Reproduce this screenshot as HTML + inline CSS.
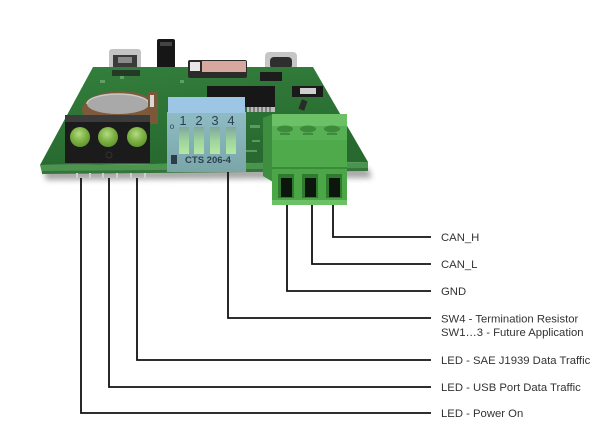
<!DOCTYPE html>
<html><head><meta charset="utf-8"><style>
html,body{margin:0;padding:0;background:#fff;}
svg{display:block;}
text{font-family:"Liberation Sans",Arial,sans-serif;}
</style></head><body>
<svg width="600" height="426" viewBox="0 0 600 426" xmlns="http://www.w3.org/2000/svg">
<defs>
<linearGradient id="brd" x1="0" y1="0" x2="0.3" y2="1">
<stop offset="0" stop-color="#347f3d"/><stop offset="0.5" stop-color="#2d7436"/><stop offset="1" stop-color="#27692f"/>
</linearGradient>
<radialGradient id="led" cx="0.45" cy="0.35" r="0.7">
<stop offset="0" stop-color="#b6da86"/><stop offset="0.5" stop-color="#7fb446"/><stop offset="1" stop-color="#5c8f2c"/>
</radialGradient>
<linearGradient id="dip" x1="0" y1="0" x2="0" y2="1">
<stop offset="0" stop-color="#8fbcc4"/><stop offset="1" stop-color="#7aa6a8"/>
</linearGradient>
<linearGradient id="sl" x1="0" y1="0" x2="0" y2="1">
<stop offset="0" stop-color="#7fa8a0"/><stop offset="0.5" stop-color="#9ed49a"/><stop offset="1" stop-color="#b5e6a6"/>
</linearGradient>
<filter id="blur" x="-20%" y="-50%" width="140%" height="200%"><feGaussianBlur stdDeviation="3"/></filter>
</defs>

<!-- shadow -->
<path d="M44,170 L368,168 L372,178 L46,180 Z" fill="#000" opacity="0.35" filter="url(#blur)"/>

<!-- top components behind board -->
<rect x="109" y="49" width="32" height="21" rx="3" fill="#c4c4c4"/>
<rect x="113" y="55" width="24" height="13" fill="#3a3a3a"/>
<rect x="118" y="57" width="14" height="6" fill="#8a8a8a"/>
<rect x="157" y="39" width="18" height="33" rx="2" fill="#161616"/>
<rect x="160" y="42" width="12" height="4" fill="#444"/>
<rect x="265" y="52" width="32" height="20" rx="4" fill="#c6c6c6"/>
<rect x="270" y="57" width="22" height="12" rx="4" fill="#2e2e2e"/>

<!-- board -->
<path d="M93,67 L313,67 L368,162 L40,165 Z" fill="url(#brd)"/>
<path d="M40,165 L368,162 L368,170 L42,173 Z" fill="#4a9450"/>
<path d="M42,171 L368,168 L368,171 L42,174 Z" fill="#357539"/>

<!-- board details -->
<rect x="188" y="60" width="59" height="18" rx="2" fill="#2b2b2b"/>
<rect x="202" y="61" width="44" height="11" fill="#d6a89e"/>
<rect x="190" y="62" width="10" height="9" fill="#e6e6e6"/>
<rect x="112" y="70" width="28" height="6" fill="#223a26"/>
<rect x="260" y="72" width="22" height="9" fill="#1c1c1c"/>
<rect x="292" y="86" width="31" height="11" fill="#1a1a1a"/>
<rect x="300" y="88" width="16" height="6" fill="#cfcfcf"/>
<rect x="207" y="86" width="68" height="21" fill="#171717"/>
<rect x="247" y="107" width="28" height="5" fill="#bdbdbd"/>
<g stroke="#444" stroke-width="1">
<line x1="250" y1="107" x2="250" y2="112"/><line x1="254" y1="107" x2="254" y2="112"/><line x1="258" y1="107" x2="258" y2="112"/><line x1="262" y1="107" x2="262" y2="112"/><line x1="266" y1="107" x2="266" y2="112"/><line x1="270" y1="107" x2="270" y2="112"/>
</g>
<rect x="300" y="100" width="6" height="10" fill="#2a2a2a" transform="rotate(20 303 105)"/>
<g fill="#9ccc9c" opacity="0.45">
<rect x="250" y="125" width="10" height="3"/><rect x="252" y="140" width="8" height="2"/><rect x="245" y="150" width="12" height="2"/>
<rect x="120" y="76" width="4" height="3"/><rect x="180" y="80" width="4" height="3"/><rect x="100" y="80" width="5" height="3"/>
</g>

<!-- battery holder -->
<ellipse cx="120" cy="110" rx="38" ry="19" fill="#7c5a3a"/>
<ellipse cx="118" cy="104" rx="31" ry="10" fill="#a9a9a9"/>
<path d="M87,104 A31,10 0 0 1 149,104" fill="none" stroke="#c9c9c9" stroke-width="1.5"/>
<rect x="148" y="92" width="10" height="32" rx="2" fill="#7a5838"/>
<rect x="150" y="95" width="4" height="12" fill="#d8d8d8"/>

<!-- LED block -->
<rect x="65" y="115" width="85" height="48" fill="#1b1b1b"/>
<rect x="65" y="115" width="85" height="7" fill="#3b3b3b"/>
<circle cx="80" cy="137" r="10" fill="url(#led)"/>
<circle cx="108" cy="137" r="10" fill="url(#led)"/>
<circle cx="137" cy="137" r="10" fill="url(#led)"/>
<circle cx="109" cy="155" r="3" fill="none" stroke="#333" stroke-width="1"/>

<!-- pins -->
<g fill="#cfcfcf">
<rect x="76" y="173" width="2" height="5"/><rect x="89" y="173" width="2" height="5"/><rect x="102" y="173" width="2" height="5"/>
<rect x="116" y="173" width="2" height="5"/><rect x="130" y="173" width="2" height="5"/><rect x="144" y="173" width="2" height="5"/>
</g>

<!-- DIP switch -->
<rect x="167" y="112" width="79" height="60" fill="url(#dip)"/>
<rect x="168" y="97" width="77" height="16" fill="#9dc5e4"/>
<g fill="url(#sl)">
<rect x="179" y="127" width="10" height="27"/><rect x="194" y="127" width="10" height="27"/><rect x="210" y="127" width="10" height="27"/><rect x="226" y="127" width="10" height="27"/>
</g>
<g fill="#2b3f55" font-size="13" text-anchor="middle">
<text x="183" y="125">1</text><text x="199" y="125">2</text><text x="215" y="125">3</text><text x="231" y="125">4</text>
</g>
<text x="172" y="129" font-size="8" fill="#2b3f55" text-anchor="middle">o</text>
<rect x="171" y="155" width="6" height="9" fill="#2d3d4a"/>
<text x="208" y="163" font-size="9.5" font-weight="bold" fill="#2d4152" text-anchor="middle">CTS 206-4</text>

<!-- terminal block -->
<path d="M263,118 L273,114 L273,182 L263,176 Z" fill="#3e8e40"/>
<rect x="272" y="114" width="75" height="12" fill="#6cc066"/>
<rect x="272" y="126" width="75" height="14" fill="#58b054"/>
<ellipse cx="285" cy="129" rx="8" ry="3.5" fill="#3e8a3b"/>
<ellipse cx="308" cy="129" rx="8" ry="3.5" fill="#3e8a3b"/>
<ellipse cx="332" cy="129" rx="8" ry="3.5" fill="#3e8a3b"/>
<g fill="#3f8a3c"><rect x="280" y="133" width="10" height="2"/><rect x="303" y="133" width="10" height="2"/><rect x="327" y="133" width="10" height="2"/></g>
<rect x="272" y="140" width="75" height="28" fill="#4faa4b"/>
<rect x="272" y="167" width="75" height="34" fill="#4ba647"/>
<rect x="272" y="167" width="75" height="2" fill="#3a8a38"/>
<rect x="272" y="200" width="75" height="5" fill="#6cc066"/>
<g fill="#2f7a2e">
<rect x="278" y="174" width="16" height="24"/><rect x="302" y="174" width="16" height="24"/><rect x="326" y="174" width="16" height="24"/>
</g>
<g fill="#0d160d">
<rect x="281" y="178" width="11" height="19"/><rect x="305" y="178" width="11" height="19"/><rect x="329" y="178" width="11" height="19"/>
</g>

<!-- leader lines -->
<g fill="none" stroke="#111" stroke-width="1.8">
<path d="M81,178 V413 H431"/>
<path d="M109,178 V387 H431"/>
<path d="M137,178 V360 H431"/>
<path d="M228,172 V318 H431"/>
<path d="M287,205 V291 H431"/>
<path d="M312,205 V264 H431"/>
<path d="M333,205 V237 H431"/>
</g>

<!-- labels -->
<g fill="#333" font-size="11.3">
<text x="441" y="241">CAN_H</text>
<text x="441" y="268">CAN_L</text>
<text x="441" y="295">GND</text>
<text x="441" y="322.5">SW4 - Termination Resistor</text>
<text x="441" y="336">SW1…3 - Future Application</text>
<text x="441" y="364">LED - SAE J1939 Data Traffic</text>
<text x="441" y="391">LED - USB Port Data Traffic</text>
<text x="441" y="417">LED - Power On</text>
</g>
</svg>
</body></html>
